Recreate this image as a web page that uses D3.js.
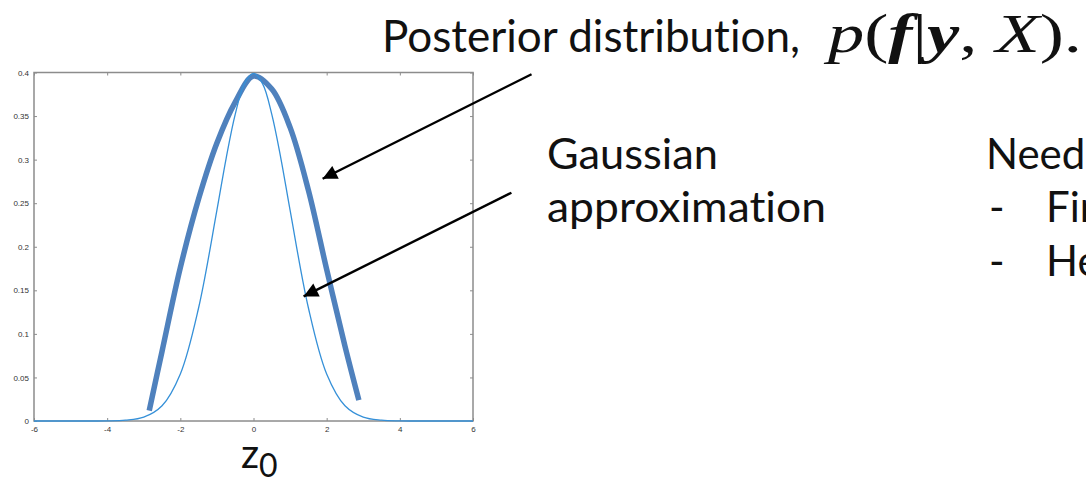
<!DOCTYPE html>
<html>
<head>
<meta charset="utf-8">
<script src="https://cdn.jsdelivr.net/npm/d3@7"></script>
<style>
  html,body{margin:0;padding:0;background:#fff;}
  svg{display:block;}
  .tick text{font-family:"Liberation Sans",Arial,sans-serif;font-size:8px;fill:#333;}
  .tick line{stroke:#8c8c8c;}
  .slide{font-family:Lato,"Open Sans",sans-serif;fill:#111;font-variant-ligatures:none;}
  .math{font-family:"Liberation Serif","DejaVu Serif",serif;fill:#111;}
</style>
</head>
<body>
<div id="chart"></div>
<script>
// ticks
const xTicks = [-6,-4,-2,0,2,4,6];
const yTicks = [0,0.05,0.1,0.15,0.2,0.25,0.3,0.35,0.4];

// thin curve: Gaussian approximation
const gaussX = [-6,-5,-4.5,-4,-3.5,-3,-2.5,-2,-1.5,-1,-0.75,-0.5,-0.25,0,0.25,0.5,0.75,1,1.5,2,2.5,3,3.5,4,4.5,5,6];
const gaussY = [0,0,0.00002,0.0001,0.0009,0.0044,0.0175,0.054,0.13,0.242,0.301,0.352,0.387,0.399,0.387,0.352,0.301,0.242,0.13,0.054,0.0175,0.0044,0.0009,0.0001,0.00002,0,0];

// thick curve: posterior
const postX = [-2.85,-2.5,-2.0,-1.5,-1.0,-0.5,0,0.5,1.0,1.5,2.0,2.5,2.88];
const postY = [0.012,0.080,0.176,0.255,0.319,0.366,0.396,0.381,0.337,0.265,0.174,0.086,0.024];

// arrows in data units: [fromX, fromY, toX, toY]
const arrows = [
  [7.6, 0.398, 1.89, 0.278],
  [7.05, 0.262, 1.37, 0.143]
];

const W = 1086, H = 477;
const svg = d3.select("#chart").append("svg").attr("width",W).attr("height",H);
svg.append("rect").attr("width",W).attr("height",H).attr("fill","#fff");

const x = d3.scaleLinear().domain([-6,6]).range([34,473]);
const y = d3.scaleLinear().domain([0,0.4]).range([421,72.5]);

// axes, matlab style: ticks inward on all four sides
svg.append("g").attr("transform",`translate(0,${y(0)})`)
  .call(d3.axisBottom(x).tickValues(xTicks).tickSize(-3).tickPadding(5).tickFormat(d=>String(d)));
svg.append("g").attr("transform",`translate(0,${y(0.4)})`)
  .call(d3.axisTop(x).tickValues(xTicks).tickSize(-3).tickFormat(""));
svg.append("g").attr("transform",`translate(${x(-6)},0)`)
  .call(d3.axisLeft(y).tickValues(yTicks).tickSize(-3).tickPadding(5).tickFormat(d=>d3.format("~g")(d)));
svg.append("g").attr("transform",`translate(${x(6)},0)`)
  .call(d3.axisRight(y).tickValues(yTicks).tickSize(-3).tickFormat(""));
svg.selectAll(".domain").remove();
svg.append("rect").attr("x",x(-6)).attr("y",y(0.4)).attr("width",x(6)-x(-6)).attr("height",y(0)-y(0.4))
  .attr("fill","none").attr("stroke","#8c8c8c").attr("stroke-width",1.5);

const line = d3.line().x(d=>x(d[0])).y(d=>y(d[1])).curve(d3.curveCatmullRom);

svg.append("path").datum(postX.map((v,i)=>[v,postY[i]]))
  .attr("d",line).attr("fill","none").attr("stroke","#4f81bd").attr("stroke-width",5.5).attr("stroke-linecap","butt");
svg.append("path").datum(gaussX.map((v,i)=>[v,gaussY[i]]))
  .attr("d",line).attr("fill","none").attr("stroke","#3590d8").attr("stroke-width",1.3);

// arrows
svg.append("defs").append("marker").attr("id","head")
  .attr("viewBox","0 0 10 10").attr("refX",10).attr("refY",5)
  .attr("markerWidth",7).attr("markerHeight",6).attr("orient","auto").attr("markerUnits","strokeWidth")
  .append("path").attr("d","M0,0 L10,5 L0,10 z").attr("fill","#000");
svg.selectAll(".arrow").data(arrows).join("line").attr("class","arrow")
  .attr("x1",d=>x(d[0])).attr("y1",d=>y(d[1])).attr("x2",d=>x(d[2])).attr("y2",d=>y(d[3]))
  .attr("stroke","#000").attr("stroke-width",2.4).attr("marker-end","url(#head)");

// slide text
const txt = (s,xx,yy,size,len)=>{
  const t = svg.append("text").attr("class","slide").attr("x",xx).attr("y",yy).attr("font-size",size).text(s);
  if(len) t.attr("textLength",len).attr("lengthAdjust","spacingAndGlyphs");
  return t;
};
txt("Posterior distribution,",382,52,44,418);
txt("Gaussian",547,169,42,171);
txt("approximation",547,222,42,279);
txt("Need",986,169,42);
txt("-",989,222,42);
txt("Fir",1046,222,42);
txt("-",989,276,42);
txt("He",1046,276,42);

// math: p(f|y, X).
const m = svg.append("text").attr("class","math").attr("x",828).attr("y",52).attr("font-size",54)
  .attr("textLength",254).attr("lengthAdjust","spacingAndGlyphs");
m.append("tspan").attr("font-style","italic").text("p");
m.append("tspan").text("(");
m.append("tspan").attr("font-style","italic").attr("font-weight","bold").text("f");
m.append("tspan").text("|");
m.append("tspan").attr("font-style","italic").attr("font-weight","bold").text("y");
m.append("tspan").text(", ");
m.append("tspan").attr("font-style","italic").text("X");
m.append("tspan").text(").");

// x label z0
const z = svg.append("text").attr("class","slide").attr("x",241).attr("y",468).attr("font-size",40);
z.append("tspan").text("z");
z.append("tspan").attr("font-size",32).attr("dy",9).text("0");
</script>
</body>
</html>
